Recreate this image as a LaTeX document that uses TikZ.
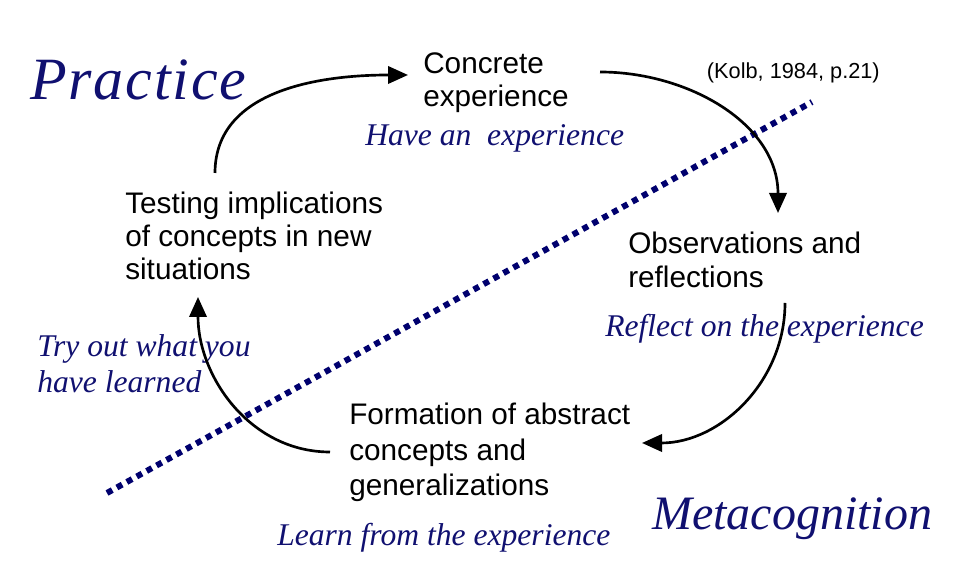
\documentclass[tikz,border=0pt]{standalone}
\usepackage{fontspec}
\setmainfont{Liberation Serif}
\setsansfont{Liberation Sans}
\usetikzlibrary{arrows.meta,calc}
\definecolor{navy}{RGB}{16,16,112}
\definecolor{dotblue}{RGB}{0,0,110}
\tikzset{
  stage/.style={anchor=north west, inner sep=0pt, align=left, font=\sffamily\fontsize{22.3}{#1}\selectfont},
  hint/.style={anchor=base west, inner sep=0pt, align=left, text=navy, font=\itshape\fontsize{23.7}{27}\selectfont},
  side/.style={anchor=base west, inner sep=0pt, text=navy, font=\itshape\fontsize{#1}{#1}\selectfont},
  cycle/.style={-{Triangle[length=15pt,width=13pt]}, line width=2pt},
  divide/.style={dotblue, line width=4.5pt, dash pattern=on 4.5pt off 4pt}
}
\begin{document}
\begin{tikzpicture}[x=0.75pt,y=0.75pt]
  \useasboundingbox (0,0) rectangle (953,566);
  \node[side=45] (prac) at (30,466) {\addfontfeature{LetterSpace=3}Practice};
  \node[side=36] (meta) at (652,36) {Metacognition};
  \node[anchor=base east, inner sep=0pt, font=\sffamily\fontsize{16.3}{19}\selectfont] (src) at (880,487) {(Kolb, 1984, p.21)};
  \node[stage=24.75] (conc) at (423,514) {Concrete\\experience};
  \node[stage=24.75] (test) at (125,374) {Testing implications\\of concepts in new\\situations};
  \node[stage=25.5] (obs) at (628,334) {Observations and\\reflections};
  \node[stage=26.5] (form) at (349,163) {Formation of abstract\\concepts and\\generalizations};
  \node[hint] (have) at (365,420) {Have an~ experience};
  \node[hint] (refl) at (605,229) {Reflect on the experience};
  \node[hint, anchor=north west] (try) at (37,232) {Try out what you\\have learned};
  \node[hint] (learn) at (277,20) {Learn from the experience};
  \coordinate (d1) at (107,73);
  \coordinate (d2) at (812,464);
  \draw[divide] (d1) -- (d2);
  \draw[cycle] ($(test.north west)+(90,19)$) to[out=90,in=180] ($(conc.north west)+(-15,-23)$);
  \draw[cycle] ($(conc.north west)+(177,-20)$) to[out=0,in=90] ($(obs.north west)+(150,19)$);
  \draw[cycle] ($(obs.north west)+(157,-71)$) to[out=-90,in=0] ($(form.north west)+(293,-40)$);
  \draw[cycle] ($(form.north west)+(-19,-49)$) to[out=180,in=-90] ($(test.north west)+(73,-105)$);
\end{tikzpicture}
\end{document}
